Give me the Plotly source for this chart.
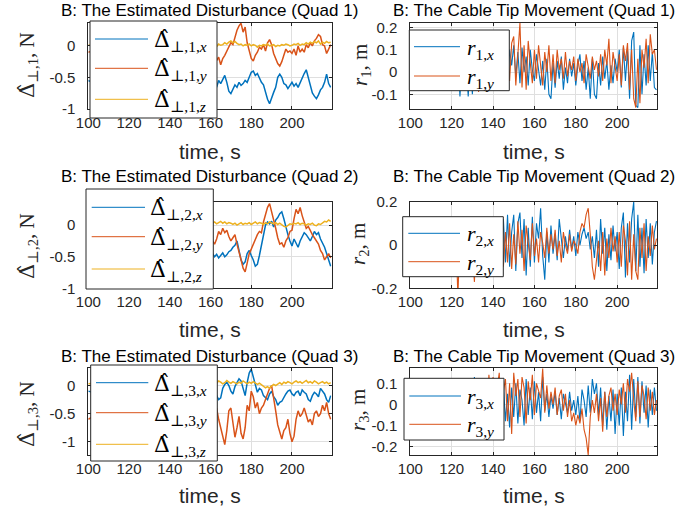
import plotly.graph_objects as go

W, H = 700, 512

# ---------------- data ----------------
t_left = [100, 105, 110, 115, 120, 125, 130, 135, 140, 145, 150, 155, 160] + list(range(161, 220))
t_right = list(range(100, 220))

# Quad 1 estimated disturbance
d1x = [-0.55, -0.62, -0.50, -0.58, -0.66, -0.60, -0.52, -0.57, -0.63, -0.59, -0.54, -0.60, -0.58,
       -0.62, -0.58, -0.66, -0.55, -0.60, -0.52, -0.47, -0.58, -0.72, -0.76,
       -0.70, -0.62, -0.66, -0.58, -0.63, -0.60, -0.55, -0.58, -0.50, -0.42,
       -0.40, -0.47, -0.44, -0.52, -0.58, -0.62, -0.75, -0.85, -0.92, -0.82,
       -0.74, -0.66, -0.50, -0.45, -0.50, -0.60, -0.62, -0.68, -0.62, -0.58,
       -0.64, -0.60, -0.66, -0.58, -0.50, -0.44, -0.38, -0.52, -0.62, -0.75,
       -0.80, -0.84, -0.78, -0.70, -0.66, -0.58, -0.45, -0.60, -0.66]
d1y = [-0.10, -0.05, -0.15, -0.08, 0.02, -0.12, -0.20, -0.14, -0.06, -0.10, -0.18, -0.22, -0.24,
       -0.20, -0.28, -0.22, -0.18, -0.30, -0.20, -0.15, -0.08, -0.02, 0.05,
       0.02, 0.15, 0.25, 0.32, 0.36, 0.22, 0.30, 0.05, -0.10, -0.20,
       -0.24, -0.15, -0.10, -0.02, -0.05, 0.02, -0.08, 0.05, 0.10, 0.02,
       -0.12, -0.20, -0.28, -0.32, -0.25, -0.15, -0.05, -0.10, -0.08, -0.12,
       -0.05, -0.15, 0.00, -0.10, -0.05, -0.10, 0.02, -0.03, 0.05, 0.00,
       0.08, 0.12, 0.18, 0.15, 0.02, 0.00, -0.12, -0.05, 0.02]
d1z = [0.01, 0.03, 0.00, 0.02, 0.04, 0.01, 0.02, 0.00, 0.03, 0.02, 0.01, 0.03, 0.02,
       0.00, 0.02, -0.01, 0.03, 0.01, 0.02, 0.05, 0.03, 0.06, 0.08,
       0.05, 0.07, 0.04, 0.02, 0.03, 0.00, 0.02, 0.01, 0.03, 0.00,
       0.02, 0.01, -0.02, 0.01, 0.00, 0.02, 0.01, 0.03, 0.00, 0.01,
       0.02, -0.01, 0.01, 0.00, 0.02, 0.01, 0.03, 0.02, 0.00, 0.01,
       0.03, 0.02, 0.04, 0.01, 0.03, 0.02, 0.05, 0.03, 0.06, 0.04,
       0.07, 0.05, 0.08, 0.03, 0.06, 0.04, 0.07, 0.05, 0.06]

# Quad 2 estimated disturbance
d2x = [-0.40, -0.35, -0.45, -0.50, -0.38, -0.42, -0.48, -0.36, -0.44, -0.40, -0.46, -0.43, -0.47,
       -0.45, -0.50, -0.46, -0.52, -0.48, -0.44, -0.50, -0.47, -0.42, -0.40,
       -0.35, -0.32, -0.25, -0.40, -0.55, -0.62, -0.58, -0.45, -0.40, -0.48,
       -0.55, -0.65, -0.62, -0.48, -0.30, -0.12, 0.00, 0.05, 0.02, 0.06,
       -0.03, 0.08, 0.12, 0.18, 0.21, 0.10, -0.05, -0.15, -0.25, -0.33,
       -0.22, -0.30, -0.35, -0.25, -0.18, -0.12, -0.15, -0.20, -0.25, -0.18,
       -0.10, -0.15, -0.12, -0.22, -0.28, -0.35, -0.45, -0.55, -0.65]
d2y = [-0.20, -0.30, -0.15, -0.25, -0.35, -0.22, -0.18, -0.28, -0.32, -0.20, -0.26, -0.24, -0.22,
       -0.25, -0.30, -0.22, -0.10, -0.15, -0.05, -0.12, -0.08, -0.18, -0.25,
       -0.20, -0.15, -0.30, -0.45, -0.55, -0.68, -0.74, -0.60, -0.45, -0.38,
       -0.30, -0.20, -0.15, -0.10, -0.12, 0.05, 0.15, 0.28, 0.34, 0.22,
       0.10, -0.05, -0.20, -0.30, -0.28, -0.35, -0.25, -0.20, -0.10, -0.08,
       0.10, 0.25, 0.18, 0.28, 0.15, 0.05, -0.05, -0.02, -0.10, -0.15,
       -0.20, -0.25, -0.30, -0.40, -0.45, -0.55, -0.50, -0.45, -0.52]
d2z = [0.02, 0.04, 0.01, 0.03, 0.05, 0.02, 0.03, 0.04, 0.01, 0.03, 0.02, 0.04, 0.03,
       0.03, 0.05, 0.02, 0.04, 0.06, 0.03, 0.05, 0.02, 0.04, 0.03,
       0.01, 0.03, 0.00, 0.02, 0.04, 0.01, 0.03, 0.02, 0.04, 0.01,
       0.03, 0.05, 0.02, 0.04, 0.03, 0.01, 0.04, 0.02, 0.05, 0.03,
       0.02, 0.04, 0.01, 0.03, 0.00, -0.02, -0.03, 0.00, 0.02, 0.01,
       0.03, 0.02, 0.04, 0.01, 0.03, 0.02, 0.00, 0.02, 0.01, 0.03,
       0.00, -0.01, 0.02, 0.01, 0.04, 0.06, 0.05, 0.08, 0.06]

# Quad 3 estimated disturbance
d3x = [-0.10, -0.15, -0.05, -0.12, -0.20, -0.08, -0.14, -0.18, -0.10, -0.16, -0.12, -0.20, -0.16,
       -0.15, -0.20, -0.18, -0.25, -0.22, -0.05, 0.02, 0.06, 0.00, -0.10,
       -0.15, -0.02, 0.05, 0.12, 0.08, -0.05, -0.18, 0.05, 0.22, 0.29,
       0.15, 0.00, -0.12, -0.05, -0.08, -0.18, -0.22, -0.25, -0.15, -0.10,
       -0.20, -0.25, -0.35, -0.30, -0.28, -0.20, -0.15, -0.10, -0.08, -0.15,
       -0.18, -0.12, -0.10, -0.18, -0.08, -0.12, -0.15, -0.25, -0.28, -0.18,
       -0.12, -0.15, -0.20, -0.05, -0.10, -0.15, -0.25, -0.30, -0.18]
d3y = [-0.60, -0.50, -0.70, -0.55, -0.65, -0.45, -0.62, -0.58, -0.68, -0.52, -0.60, -0.48, -0.40,
       -0.35, -0.45, -0.40, -0.60, -0.75, -0.95, -1.05, -0.80, -0.45, -0.40,
       -0.70, -0.92, -0.75, -0.55, -0.85, -0.95, -0.75, -0.35, -0.45, -0.10,
       -0.20, -0.40, -0.30, -0.50, -0.40, -0.35, -0.25, -0.15, -0.05, 0.00,
       -0.20, -0.45, -0.70, -0.85, -0.95, -0.80, -0.75, -0.60, -0.85, -1.00,
       -0.90, -0.60, -0.45, -0.55, -0.50, -0.40, -0.55, -0.65, -0.60, -0.70,
       -0.50, -0.45, -0.55, -0.50, -0.35, -0.45, -0.30, -0.50, -0.60]
d3z = [0.03, 0.05, 0.02, 0.04, 0.06, 0.03, 0.04, 0.02, 0.05, 0.03, 0.04, 0.06, 0.04,
       0.05, 0.07, 0.04, 0.08, 0.06, 0.03, 0.05, 0.09, 0.06, 0.04,
       0.07, 0.05, 0.03, 0.06, 0.04, 0.08, 0.05, 0.03, 0.06, 0.04,
       0.07, 0.05, 0.02, 0.04, 0.01, -0.01, -0.04, -0.02, -0.05, -0.01,
       0.02, 0.00, 0.03, 0.05, 0.02, 0.06, 0.04, 0.07, 0.05, 0.03,
       0.06, 0.08, 0.05, 0.07, 0.04, 0.06, 0.09, 0.05, 0.07, 0.04,
       0.08, 0.06, 0.03, 0.05, 0.07, 0.04, 0.06, 0.03, 0.05]

# Cable tip movement
r1x = [0.02, -0.03, 0.05, 0.01, -0.02, 0.04, 0.00, 0.03, -0.04, 0.02,
       0.05, -0.02, 0.03, -0.05, 0.06, 0.01, -0.04, 0.07, -0.02, 0.04,
       -0.05, 0.06, -0.03, 0.08, -0.11, 0.05, -0.06, 0.04, -0.11, 0.07,
       -0.10, 0.05, -0.04, 0.09, -0.06, 0.08, -0.03, 0.10, -0.05, 0.06,
       -0.07, 0.11, -0.02, 0.08, -0.06, 0.12, 0.02, -0.04, 0.10, 0.03,
       0.12, -0.02, 0.09, -0.05, 0.11, 0.00, 0.07, -0.06, 0.10, 0.01,
       -0.04, 0.08, 0.02, -0.06, 0.05, -0.08, 0.06, -0.10, -0.12, 0.04,
       -0.07, 0.05, -0.03, 0.07, -0.08, 0.02, -0.05, 0.06, -0.02, 0.04,
       -0.06, 0.03, 0.08, -0.04, 0.05, -0.08, 0.02, -0.12, 0.06, -0.10,
       -0.12, 0.04, -0.06, 0.07, -0.03, 0.05, -0.08, 0.03, -0.05, 0.06,
       0.00, 0.10, -0.07, 0.11, -0.04, 0.10, -0.12, 0.14, 0.18, -0.15,
       -0.16, 0.12, -0.10, 0.08, -0.06, 0.12, -0.04, 0.09, -0.07, -0.08]
r1y = [0.01, 0.04, -0.02, 0.03, 0.00, -0.03, 0.05, 0.02, -0.01, 0.04,
       -0.03, 0.06, 0.01, -0.04, 0.05, -0.02, 0.07, 0.00, -0.05, 0.06,
       0.02, -0.04, 0.08, -0.03, 0.06, 0.01, -0.05, 0.09, -0.02, -0.07,
       0.05, -0.03, 0.08, -0.09, 0.04, 0.10, -0.05, 0.12, 0.00, 0.08,
       -0.04, 0.11, 0.03, -0.06, 0.14, 0.02, -0.07, 0.10, -0.04, 0.13,
       0.16, -0.06, 0.08, 0.22, -0.07, 0.12, -0.08, 0.14, 0.04, -0.05,
       0.10, -0.03, 0.12, 0.02, -0.06, 0.09, 0.00, 0.12, -0.04, 0.08,
       -0.05, 0.10, 0.01, 0.06, -0.03, 0.09, -0.02, 0.05, 0.01, 0.07,
       -0.04, 0.06, 0.00, 0.04, -0.05, 0.08, 0.02, -0.03, 0.07, 0.01,
       0.05, -0.02, 0.08, -0.04, 0.10, 0.03, 0.15, -0.05, 0.09, 0.02,
       -0.04, 0.08, -0.06, 0.12, 0.05, 0.13, -0.08, 0.10, -0.12, -0.16,
       0.06, -0.14, 0.10, 0.02, 0.15, -0.05, 0.17, 0.08, 0.10, 0.01]
r2x = [0.03, -0.04, 0.06, -0.02, 0.05, -0.06, 0.04, 0.01, -0.05, 0.07,
       -0.03, 0.05, -0.07, 0.08, -0.02, 0.06, -0.08, 0.04, 0.00, -0.06,
       0.09, -0.05, 0.07, -0.09, 0.05, 0.02, -0.08, 0.10, -0.04, 0.06,
       -0.10, 0.08, -0.03, 0.09, -0.07, 0.10, -0.02, 0.06, -0.09, 0.11,
       -0.05, 0.08, -0.11, 0.10, -0.06, 0.12, -0.08, 0.14, -0.10, 0.06,
       0.14, -0.12, 0.10, 0.15, -0.06, 0.12, -0.14, 0.08, -0.10, 0.13,
       -0.08, 0.10, 0.03, 0.17, -0.05, -0.16, 0.06, -0.08, 0.09, -0.04,
       0.05, -0.07, 0.12, 0.02, -0.06, 0.04, -0.03, 0.07, -0.02, 0.04,
       -0.05, 0.06, 0.00, 0.05, 0.08, 0.03, 0.06, -0.02, 0.04, -0.06,
       0.07, -0.10, 0.12, -0.04, 0.08, -0.12, 0.05, -0.07, 0.09, -0.03,
       0.06, -0.11, 0.08, 0.15, -0.15, 0.10, -0.08, 0.12, 0.20, -0.12,
       0.14, -0.10, 0.08, -0.13, 0.12, -0.06, 0.10, -0.09, 0.06, 0.11]
r2y = [-0.02, 0.04, -0.05, 0.03, 0.06, -0.03, 0.02, -0.06, 0.05, 0.00,
       0.04, -0.07, 0.03, 0.08, -0.04, 0.02, -0.08, 0.06, -0.02, 0.05,
       -0.06, 0.04, 0.08, -0.24, 0.05, -0.03, 0.07, -0.05, 0.02, 0.09,
       -0.04, -0.17, 0.06, 0.02, -0.08, 0.07, -0.03, 0.10, -0.06, 0.04,
       -0.09, 0.08, 0.02, 0.11, 0.12, -0.10, 0.06, -0.08, 0.10, -0.11,
       0.05, -0.09, 0.11, -0.04, 0.07, -0.12, 0.09, 0.00, -0.07, 0.10,
       -0.05, 0.03, -0.08, 0.06, 0.01, -0.06, 0.08, -0.04, 0.05, -0.02,
       0.07, -0.05, 0.02, -0.08, 0.06, 0.00, -0.04, 0.05, -0.03, 0.02,
       0.00, -0.04, 0.06, 0.10, 0.08, 0.14, 0.17, 0.05, -0.10, -0.16,
       -0.08, 0.02, -0.12, 0.06, -0.14, 0.03, -0.06, 0.08, -0.03, 0.04,
       -0.08, 0.06, -0.10, 0.09, 0.02, -0.14, 0.11, -0.16, 0.05, -0.12,
       -0.16, 0.08, -0.06, 0.10, -0.12, 0.04, -0.05, 0.09, -0.02, 0.03]
r3x = [0.02, -0.05, 0.04, -0.02, 0.06, -0.04, 0.03, 0.00, -0.06, 0.05,
       -0.03, 0.07, -0.05, 0.02, 0.06, -0.07, 0.04, -0.02, 0.08, -0.04,
       0.05, -0.08, 0.07, -0.03, 0.09, -0.06, 0.04, 0.10, -0.07, 0.06,
       -0.05, 0.13, -0.04, 0.08, -0.09, 0.10, -0.03, 0.07, -0.08, 0.11,
       -0.06, 0.09, -0.10, 0.06, -0.04, 0.10, -0.08, 0.05, -0.11, 0.08,
       -0.06, 0.10, -0.09, 0.07, 0.02, -0.10, 0.12, -0.05, 0.08, -0.07,
       0.11, -0.04, 0.06, -0.08, 0.13, -0.03, 0.05, -0.06, 0.04, -0.02,
       0.06, -0.05, 0.03, -0.07, 0.05, 0.00, -0.04, 0.06, -0.03, 0.02,
       -0.05, 0.04, -0.08, 0.07, 0.02, -0.06, 0.09, -0.04, 0.12, 0.05,
       0.10, -0.05, 0.08, -0.10, 0.06, -0.12, 0.04, -0.08, 0.07, -0.14,
       0.05, -0.10, 0.08, -0.15, 0.06, -0.08, 0.14, -0.12, 0.12, -0.06,
       0.13, -0.09, 0.11, -0.04, 0.09, -0.11, 0.07, -0.05, 0.08, -0.03]
r3y = [0.03, -0.02, 0.05, -0.04, 0.02, 0.06, -0.03, 0.04, -0.05, 0.01,
       0.06, -0.04, 0.03, 0.07, -0.06, 0.02, 0.05, -0.03, 0.08, -0.05,
       0.04, 0.09, -0.06, 0.05, -0.02, 0.08, -0.07, 0.06, 0.10, -0.04,
       0.07, -0.05, 0.09, 0.03, -0.08, 0.11, 0.05, -0.06, 0.14, 0.02,
       0.13, -0.04, 0.08, 0.15, -0.10, 0.06, 0.12, -0.08, 0.10, -0.14,
       0.15, 0.04, 0.12, -0.06, 0.13, 0.08, -0.09, 0.11, 0.02, 0.14,
       -0.05, 0.10, 0.06, 0.03, 0.17, -0.04, 0.09, -0.02, 0.06, 0.00,
       0.08, -0.05, 0.04, 0.07, -0.03, 0.05, -0.06, 0.02, -0.08, -0.04,
       -0.10, -0.05, -0.09, -0.02, -0.12, -0.16, -0.24, -0.06, 0.02, -0.04,
       0.05, -0.08, 0.03, -0.13, 0.06, -0.06, 0.04, 0.08, -0.03, 0.05,
       -0.05, 0.07, 0.00, 0.10, -0.04, 0.12, 0.06, 0.15, 0.02, -0.08,
       0.11, -0.06, 0.09, 0.04, -0.07, 0.08, -0.03, 0.06, -0.05, 0.02]

x_ticks = [100, 120, 140, 160, 180, 200]
left_yticks = [-1, -0.5, 0]
right_yticks = [[-0.1, 0, 0.1, 0.2], [-0.2, 0, 0.2], [-0.2, -0.1, 0, 0.1]]
left_yranges = [[-1.0, 0.37], [-1.0, 0.37], [-1.235, 0.32]]
right_yranges = [[-0.165, 0.222], [-0.2, 0.2], [-0.24, 0.175]]

left_titles = ["B: The Estimated Disturbance (Quad 1)", "B: The Estimated Disturbance (Quad 2)",
               "B: The Estimated Disturbance (Quad 3)"]
right_titles = ["B: The Cable Tip Movement (Quad 1)", "B: The Cable Tip Movement (Quad 2)",
                "B: The Cable Tip Movement (Quad 3)"]

BLUE, ORANGE, YELLOW = "#0072BD", "#D95319", "#EDB120"
AX = "#262626"
GRID = "#dfdfdf"
SANS = "Liberation Sans, Arial, Helvetica, sans-serif"
SERIF = "Liberation Serif, DejaVu Serif, serif"
HAT = '<span style="font-family:DejaVu Serif">Δ\u0302</span>'


def px(x):
    return x / W


def py(y):
    return 1 - y / H


# layout geometry in pixels
left_x = (88.3, 331.5)
right_x = (410.3, 657.3)
rows_y = [(22.7, 108.7), (201.7, 288.4), (367.5, 455.0)]

fig = go.Figure()
layout = dict(width=W, height=H, autosize=False,
              margin=dict(l=0, r=0, t=0, b=0, pad=0, autoexpand=False),
              plot_bgcolor="white", paper_bgcolor="white", showlegend=False)

left_series = [(d1x, d1y, d1z), (d2x, d2y, d2z), (d3x, d3y, d3z)]
right_series = [(r1x, r1y), (r2x, r2y), (r3x, r3y)]

shapes = []
annotations = []


def axis_common():
    return dict(showline=True, linecolor=AX, linewidth=1, mirror="ticks",
                ticks="inside", ticklen=3, tickcolor=AX, tickwidth=1, automargin=False,
                showgrid=True, gridcolor=GRID, gridwidth=1, zeroline=False,
                tickfont=dict(family=SANS, size=15, color=AX))


for r in range(3):
    for c in range(2):
        idx = r * 2 + c + 1
        xs = "" if idx == 1 else str(idx)
        xd = left_x if c == 0 else right_x
        yd = rows_y[r]
        xa = axis_common()
        xa.update(domain=[px(xd[0]), px(xd[1])], anchor="y" + xs, range=[100, 219.4],
                  tickvals=x_ticks, ticktext=[str(v) for v in x_ticks])
        ya = axis_common()
        if c == 0:
            tv = left_yticks
            yr = left_yranges[r]
        else:
            tv = right_yticks[r]
            yr = right_yranges[r]
        ya.update(domain=[py(yd[1]), py(yd[0])], anchor="x" + xs, range=yr,
                  tickvals=tv, ticktext=[("%g" % v) for v in tv], ticklabelstandoff=9)
        layout["xaxis" + xs] = xa
        layout["yaxis" + xs] = ya

        if c == 0:
            sx, sy, sz = left_series[r]
            for ser, col in ((sx, BLUE), (sy, ORANGE), (sz, YELLOW)):
                fig.add_trace(go.Scatter(x=t_left, y=ser, mode="lines",
                                         line=dict(color=col, width=1.5),
                                         xaxis="x" + xs, yaxis="y" + xs))
        else:
            sx, sy = right_series[r]
            for ser, col in ((sx, BLUE), (sy, ORANGE)):
                fig.add_trace(go.Scatter(x=t_right, y=ser, mode="lines",
                                         line=dict(color=col, width=1.1),
                                         xaxis="x" + xs, yaxis="y" + xs))

# titles and axis labels
title_y = [10, 176, 356]
xlabel_y = [151, 329, 495]
for r in range(3):
    for c in range(2):
        xd = left_x if c == 0 else right_x
        cx = (xd[0] + xd[1]) / 2
        annotations.append(dict(text=(left_titles if c == 0 else right_titles)[r],
                                x=px(cx), y=py(title_y[r]), xref="paper", yref="paper",
                                xanchor="center", yanchor="middle", showarrow=False,
                                font=dict(family=SANS, size=17, color="black")))
        annotations.append(dict(text="time, s", x=px(cx), y=py(xlabel_y[r]),
                                xref="paper", yref="paper", xanchor="center",
                                yanchor="middle", showarrow=False,
                                font=dict(family=SANS, size=21, color=AX)))

ylab_left = [(28, 65), (28, 246), (28, 414)]
ylab_right = [(361, 65), (359, 244), (359, 410)]
for r in range(3):
    q = r + 1
    annotations.append(dict(text=HAT + "<sub>⊥,%d</sub>, N" % q,
                            x=px(ylab_left[r][0]), y=py(ylab_left[r][1]),
                            xref="paper", yref="paper", xanchor="center", yanchor="middle",
                            textangle=-90, showarrow=False,
                            font=dict(family=SERIF, size=21, color=AX)))
    annotations.append(dict(text="<i>r</i><sub>%d</sub>, m" % q,
                            x=px(ylab_right[r][0]), y=py(ylab_right[r][1]),
                            xref="paper", yref="paper", xanchor="center", yanchor="middle",
                            textangle=-90, showarrow=False,
                            font=dict(family=SERIF, size=21, color=AX)))

# legends (boxes drawn above data, like the MATLAB legend)
left_leg = [dict(box=(90, 21, 217, 118), ys=(39, 68.3, 99.3), lx=(95, 148), tx=152),
            dict(box=(86, 189, 213.3, 289), ys=(207.3, 236.7, 269), lx=(91.7, 145), tx=148),
            dict(box=(90.7, 365, 217.3, 461), ys=(382.7, 412.7, 444.3), lx=(96, 148.3), tx=152)]
right_leg = [dict(box=(409.3, 30, 509.3, 90.7), ys=(46.7, 76), lx=(414, 460), tx=465),
             dict(box=(402.7, 216.7, 503.3, 276.7), ys=(233.3, 261.7), lx=(408.3, 460), tx=465),
             dict(box=(404, 378.3, 504, 440), ys=(396, 424.3), lx=(409.3, 461), tx=465)]

for r in range(3):
    q = r + 1
    for leg, labels, cols in (
            (left_leg[r], [HAT + "<sub>⊥,%d,<i>%s</i></sub>" % (q, a) for a in "xyz"],
             (BLUE, ORANGE, YELLOW)),
            (right_leg[r], ["<i>r</i><sub>%d,<i>%s</i></sub>" % (q, a) for a in "xy"],
             (BLUE, ORANGE))):
        b = leg["box"]
        shapes.append(dict(type="rect", xref="paper", yref="paper", layer="above",
                           x0=px(b[0]), x1=px(b[2]), y0=py(b[3]), y1=py(b[1]),
                           fillcolor="white", line=dict(color=AX, width=1)))
        for yy, lab, col in zip(leg["ys"], labels, cols):
            shapes.append(dict(type="line", xref="paper", yref="paper", layer="above",
                               x0=px(leg["lx"][0]), x1=px(leg["lx"][1]), y0=py(yy), y1=py(yy),
                               line=dict(color=col, width=1)))
            annotations.append(dict(text=lab, x=px(leg["tx"]), y=py(yy + 2),
                                    xref="paper", yref="paper", xanchor="left",
                                    yanchor="middle", showarrow=False,
                                    font=dict(family=SERIF, size=22, color="black")))

layout["shapes"] = shapes
layout["annotations"] = annotations
fig.update_layout(**layout)
fig.write_html("out.html")
